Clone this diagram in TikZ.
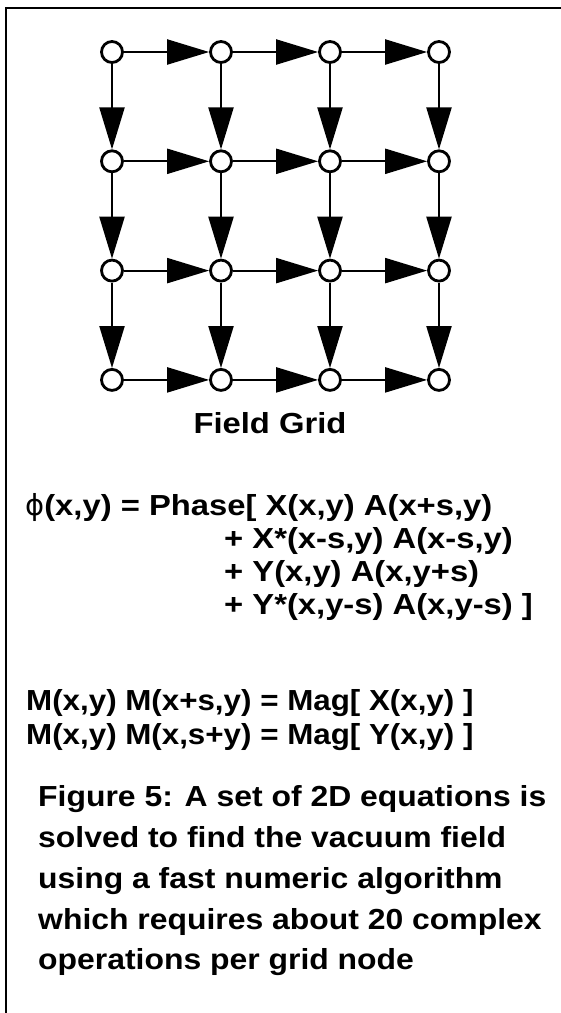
\documentclass[tikz,border=0pt]{standalone}
\usepackage{fontspec}
\setmainfont{Liberation Sans}
\newfontfamily\txtfont{Liberation Sans}[FakeStretch=1.13]
\newfontfamily\mfont{Liberation Sans}[FakeStretch=1.08]
\newfontfamily\capfont{Liberation Sans}[FakeStretch=1.10]
\newfontfamily\phifont{DejaVu Sans}
\usetikzlibrary{arrows.meta}
\begin{document}
\begin{tikzpicture}[x=1pt,y=-1pt,
  gnode/.style={circle, draw, line width=2.8pt, fill=white, minimum size=21pt, inner sep=0pt},
  garrow/.style={line width=2.2pt, -{Triangle[length=42pt,width=25pt]}},
  frameline/.style={line width=2pt},
  bigtext/.style={inner sep=0pt, font=\txtfont\bfseries\fontsize{29}{35}\selectfont},
  eqtext/.style={bigtext, anchor=base west},
  mtext/.style={eqtext, font=\mfont\bfseries\fontsize{29}{35}\selectfont},
  captext/.style={eqtext, font=\capfont\bfseries\fontsize{29}{35}\selectfont}
]
\useasboundingbox (0,0) rectangle (561,1013);
\draw[frameline] (6,1013) -- (6,8) -- (561,8);
% grid nodes
\foreach \i in {0,1,2,3}{
  \foreach \j in {0,1,2,3}{
    \node[gnode] (n\i\j) at ({112+109*\i},{52+109.3*\j}) {};
  }
}
% horizontal arrows
\foreach \i/\k in {0/1,1/2,2/3}{
  \foreach \j in {0,1,2,3}{
    \draw[garrow] (n\i\j) -- (n\k\j);
  }
}
% vertical arrows
\foreach \i in {0,1,2,3}{
  \foreach \j/\k in {0/1,1/2,2/3}{
    \draw[garrow] (n\i\j) -- (n\i\k);
  }
}
\node[bigtext, anchor=base] (title) at (270,433) {Field Grid};
\node[eqtext] (e1) at (25,515) {{\phifont\mdseries\char"03D5}(x,y) = Phase[ X(x,y) A(x+s,y)};
\node[eqtext] (e2) at (224,548) {+ X*(x-s,y) A(x-s,y)};
\node[eqtext] (e3) at (224,581) {+ Y(x,y) A(x,y+s)};
\node[eqtext] (e4) at (224,614) {+ Y*(x,y-s) A(x,y-s) ]};
\node[mtext] (m1) at (26,710) {M(x,y) M(x+s,y) = Mag[ X(x,y) ]};
\node[mtext] (m2) at (26,744) {M(x,y) M(x,s+y) = Mag[ Y(x,y) ]};
\node[captext] (c1) at (38,806) {Figure 5: A set of 2D equations is};
\node[captext] (c2) at (38,847) {solved to find the vacuum field};
\node[captext] (c3) at (38,888) {using a fast numeric algorithm};
\node[captext] (c4) at (38,929) {which requires about 20 complex};
\node[captext] (c5) at (38,969) {operations per grid node};
\end{tikzpicture}
\end{document}
